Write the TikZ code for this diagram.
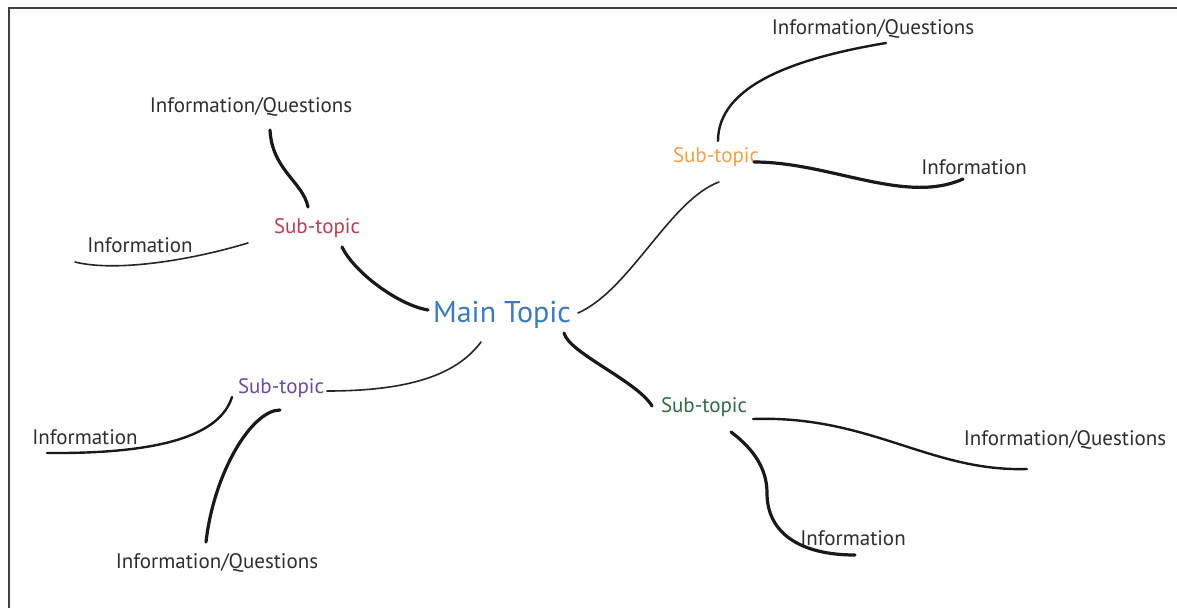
\documentclass[tikz,border=0pt]{standalone}
\usepackage{fontspec}
\setmainfont{PT Sans}
\usepackage{tikz}
\usetikzlibrary{positioning}
\definecolor{mainblue}{HTML}{3D7AB8}
\definecolor{subred}{HTML}{B5404F}
\definecolor{suborange}{HTML}{EAA24A}
\definecolor{subpurple}{HTML}{6E4A9A}
\definecolor{subgreen}{HTML}{2F6B45}
\definecolor{inkgray}{HTML}{2E2E2E}
\tikzset{
maintopic/.style={inner sep=0pt,text=mainblue,font=\fontsize{30}{32}\selectfont},
subtopic/.style={inner sep=0pt,text=#1,font=\fontsize{21}{23}\selectfont},
leaf/.style={inner sep=0pt,text=inkgray,font=\fontsize{21}{23}\selectfont},
heavy/.style={line width=3.2pt,line cap=round,black!90},
medium/.style={line width=2.4pt,line cap=round,black!90},
light/.style={line width=1.6pt,line cap=round,black!85}
}
\begin{document}
\begin{tikzpicture}[x=1pt,y=-1pt]
\useasboundingbox (0,0) rectangle (1177,608);
\fill[white] (0,0) rectangle (1177,608);
\draw[line width=2pt,black!75] (1177,8) -- (8.5,8) -- (8.5,608);
\node[maintopic](main) at (502,315){Main Topic};
\node[subtopic=subred](red) at (317,228){Sub-topic};
\node[subtopic=suborange](orange) at (716,157){Sub-topic};
\node[subtopic=subpurple](purple) at (281,388){Sub-topic};
\node[subtopic=subgreen](green) at (704,407){Sub-topic};
\node[leaf](redq) at (251,107){Information/Questions};
\node[leaf](redi) at (140,245){Information};
\node[leaf](orangeq) at (873,29){Information/Questions};
\node[leaf](orangei) at (974,167){Information};
\node[leaf](purplei) at (85,437){Information};
\node[leaf](purpleq) at (217,563){Information/Questions};
\node[leaf](greenq) at (1065,440){Information/Questions};
\node[leaf](greeni) at (853,538){Information};
\draw[heavy]([shift={(19,23)}]redq.center) .. controls +(2,40) and +(-5,-25) .. ([shift={(-9,-21)}]red.center);
\draw[light]([shift={(-69,15)}]red.center) .. controls +(-60,18) and +(40,10) .. ([shift={(-65,17)}]redi.center);
\draw[heavy]([shift={(25,19)}]red.center) .. controls +(12,25) and +(-30,-5) .. ([shift={(-74,-5)}]main.center);
\draw[light]([shift={(76,-2)}]main.center) .. controls +(52,-23) and +(-49,18) .. ([shift={(3,25)}]orange.center);
\draw[medium]([shift={(2,-16)}]orange.center) .. controls +(0,-56) and +(-90,15) .. ([shift={(13,14)}]orangeq.center);
\draw[heavy]([shift={(38,5)}]orange.center) .. controls +(76,0) and +(-58,26) .. ([shift={(-11,12)}]orangei.center);
\draw[light]([shift={(-21,27)}]main.center) .. controls +(-21,28) and +(93,0) .. ([shift={(46,3)}]purple.center);
\draw[medium]([shift={(-49,9)}]purple.center) .. controls +(-12,38) and +(115,1) .. ([shift={(-38,16)}]purplei.center);
\draw[heavy]([shift={(-1,22)}]purple.center) .. controls +(-28,0) and +(8,-70) .. ([shift={(-11,-21)}]purpleq.center);
\draw[heavy]([shift={(62,18)}]main.center) .. controls +(5,20) and +(-15,-25) .. ([shift={(-52,-1)}]green.center);
\draw[medium]([shift={(49,12)}]green.center) .. controls +(117,-4) and +(-97,3) .. ([shift={(-38,29)}]greenq.center);
\draw[heavy]([shift={(27,25)}]green.center) .. controls +(24,18) and +(0,-23) .. ([shift={(-86,-45)}]greeni.center) .. controls +(0,40) and +(-55,0) .. ([shift={(2,17)}]greeni.center);
\end{tikzpicture}
\end{document}
